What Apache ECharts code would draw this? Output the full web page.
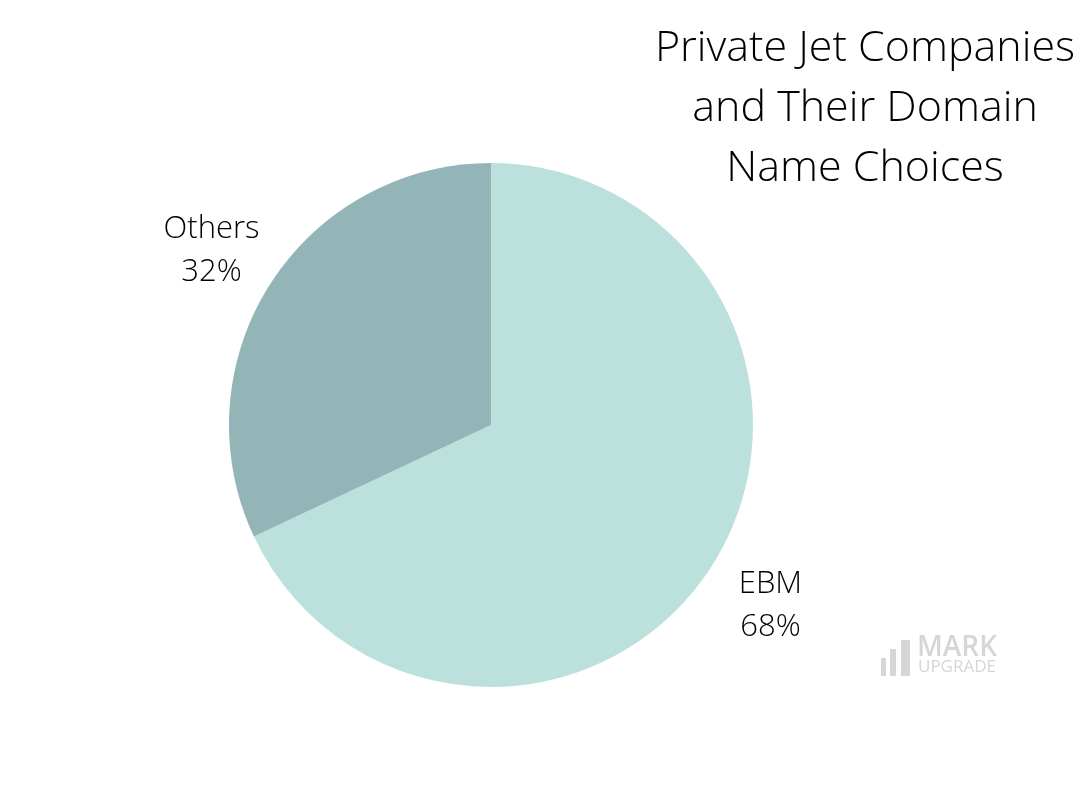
<!DOCTYPE html>
<html>
<head>
<meta charset="utf-8">
<script src="https://cdn.jsdelivr.net/npm/echarts@6/dist/echarts.min.js"></script>
<style>
html,body{margin:0;padding:0;background:#fff;}
#chart{width:1080px;height:800px;}
</style>
</head>
<body>
<div id="chart"></div>
<script>
const titleText = 'Private Jet Companies\nand Their Domain\nName Choices';
const categories = ['EBM', 'Others'];
const values = [68, 32];
const colors = ['#bce0dc', '#94b5b8'];

const pieData = categories.map((c, i) => ({ name: c, value: values[i], itemStyle: { color: colors[i] } }));
const labelData = categories.map((c, i) => ({ name: c, value: values[i] }));

const chart = echarts.init(document.getElementById('chart'), null, { renderer: 'canvas' });
chart.setOption({
  backgroundColor: '#ffffff',
  animation: false,
  title: {
    text: titleText,
    left: 860,
    top: 14,
    textAlign: 'center',
    textStyle: {
      fontFamily: 'Open Sans',
      fontWeight: 300,
      fontSize: 43,
      lineHeight: 60,
      color: '#000000'
    }
  },
  series: [
    {
      type: 'pie',
      silent: true,
      center: [491, 425],
      radius: [0, 262],
      startAngle: 90,
      clockwise: true,
      label: { show: false },
      labelLine: { show: false },
      itemStyle: { borderWidth: 0 },
      data: pieData
    },
    {
      type: 'pie',
      silent: true,
      center: [491, 428],
      radius: [262, 394],
      startAngle: 90,
      clockwise: true,
      itemStyle: { color: 'rgba(0,0,0,0)', borderWidth: 0 },
      label: {
        show: true,
        position: 'inside',
        rotate: 0,
        formatter: '{b}\n{d}%',
        fontFamily: 'Open Sans',
        fontWeight: 300,
        fontSize: 31,
        lineHeight: 43,
        color: '#000000',
        align: 'center'
      },
      labelLine: { show: false },
      data: labelData
    }
  ],
  graphic: [
    { type: 'rect', silent: true, shape: { x: 881, y: 658, width: 5, height: 18 }, style: { fill: '#d6d6d6' } },
    { type: 'rect', silent: true, shape: { x: 890, y: 649, width: 6, height: 27 }, style: { fill: '#d6d6d6' } },
    { type: 'rect', silent: true, shape: { x: 901, y: 640, width: 9, height: 36 }, style: { fill: '#d6d6d6' } },
    { type: 'text', silent: true, left: 917, top: 634, style: { text: 'MARK', fill: '#d6d6d6', font: '600 28px "Open Sans"' } },
    { type: 'text', silent: true, left: 918, top: 659, style: { text: 'UPGRADE', fill: '#d6d6d6', font: '500 17px "Open Sans"' } }
  ]
});
</script>
</body>
</html>
